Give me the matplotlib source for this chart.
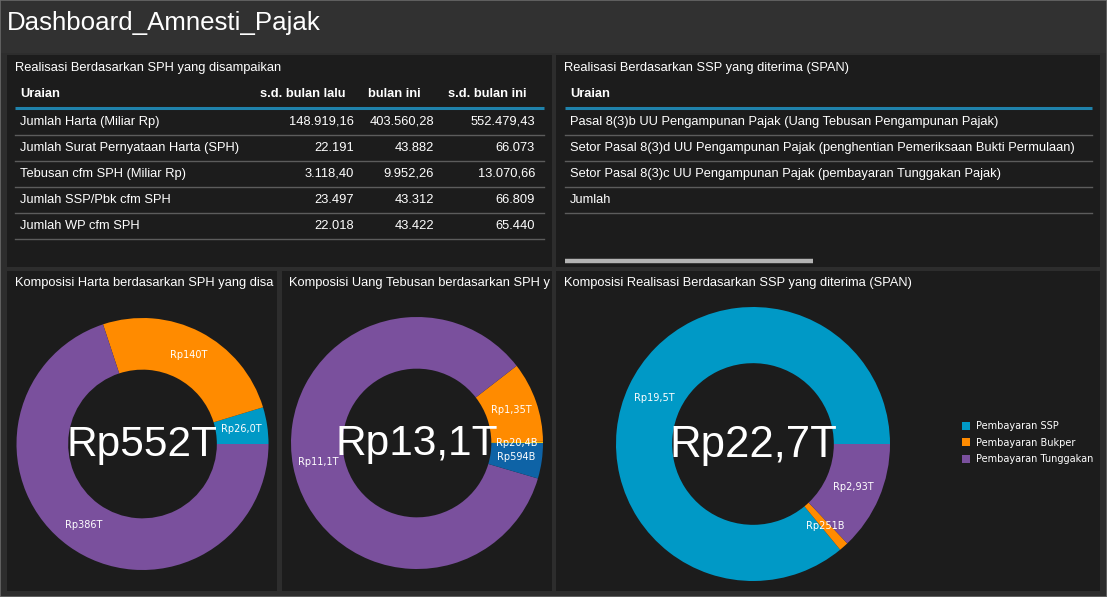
import math
import matplotlib
matplotlib.use("Agg")
import matplotlib.pyplot as plt

# ---------------- data ----------------
dash_title = "Dashboard_Amnesti_Pajak"

t1_title = "Realisasi Berdasarkan SPH yang disampaikan"
t1_header = ["Uraian", "s.d. bulan lalu", "bulan ini", "s.d. bulan ini"]
t1_rows = ["Jumlah Harta (Miliar Rp)",
           "Jumlah Surat Pernyataan Harta (SPH)",
           "Tebusan cfm SPH (Miliar Rp)",
           "Jumlah SSP/Pbk cfm SPH",
           "Jumlah WP cfm SPH"]
t1_sd_lalu = ["148.919,16", "22.191", "3.118,40", "23.497", "22.018"]
t1_bulan_ini = ["403.560,28", "43.882", "9.952,26", "43.312", "43.422"]
t1_sd_ini = ["552.479,43", "66.073", "13.070,66", "66.809", "65.440"]

t2_title = "Realisasi Berdasarkan SSP yang diterima (SPAN)"
t2_header = ["Uraian"]
t2_rows = ["Pasal 8(3)b UU Pengampunan Pajak (Uang Tebusan Pengampunan Pajak)",
           "Setor Pasal 8(3)d UU Pengampunan Pajak (penghentian Pemeriksaan Bukti Permulaan)",
           "Setor Pasal 8(3)c UU Pengampunan Pajak (pembayaran Tunggakan Pajak)",
           "Jumlah"]

# panel titles as visible (cut off by the panel edge in the dashboard)
d1_title = "Komposisi Harta berdasarkan SPH yang disa"
d1_values = [26.0, 140.0, 386.0]          # Rp triliun
d1_labels = ["Rp26,0T", "Rp140T", "Rp386T"]
d1_center = "Rp552T"
d1_colors = ["#0099c6", "#ff8b00", "#7a509d"]

d2_title = "Komposisi Uang Tebusan berdasarkan SPH y"
d2_values = [0.0204, 1.35, 11.1, 0.594]   # Rp triliun
d2_labels = ["Rp20,4B", "Rp1,35T", "Rp11,1T", "Rp594B"]
d2_center = "Rp13,1T"
d2_colors = ["#f2c318", "#ff8b00", "#7a509d", "#0e63a6"]

d3_title = "Komposisi Realisasi Berdasarkan SSP yang diterima (SPAN)"
d3_categories = ["Pembayaran SSP", "Pembayaran Bukper", "Pembayaran Tunggakan"]
d3_values = [19.5, 0.251, 2.93]           # Rp triliun
d3_labels = ["Rp19,5T", "Rp251B", "Rp2,93T"]
d3_center = "Rp22,7T"
d3_colors = ["#0099c6", "#ff8b00", "#7a509d"]

# ---------------- style ----------------
W, H = 1107, 597
FIG_BG = "#2d2d2d"
TOP_BG = "#313131"
PANEL_BG = "#1c1c1c"
FONT = "Liberation Sans"
SMALL_FONT = "DejaVu Sans"
FS = 9.3
plt.rcParams["font.family"] = [FONT, "DejaVu Sans"]

fig = plt.figure(figsize=(W / 100, H / 100), dpi=100, facecolor=FIG_BG)


def add_panel(x, y, w, h, bg=PANEL_BG):
    ax = fig.add_axes([x / W, 1 - (y + h) / H, w / W, h / H])
    ax.set_facecolor(bg)
    ax.set_xlim(x, x + w)
    ax.set_ylim(y + h, y)
    ax.set_xticks([])
    ax.set_yticks([])
    for s in ax.spines.values():
        s.set_visible(False)
    return ax


# title bar background
add_panel(1, 1, W - 2, 52, bg=TOP_BG)

# outer frame
frame = fig.add_axes([0, 0, 1, 1])
frame.set_facecolor("none")
frame.set_xticks([]); frame.set_yticks([])
for s in frame.spines.values():
    s.set_color("#6a6a6a")
    s.set_linewidth(1.2)

fig.text(7 / W, 1 - 23 / H, dash_title, color="white", fontsize=18.6,
         ha="left", va="center", family=FONT)

# ---------------- table 1 ----------------
ax1 = add_panel(7, 55, 545, 212)
ax1.text(15, 68, t1_title, color="white", fontsize=FS, ha="left", va="center", clip_on=True)
hdr_y = 94
ax1.text(20, hdr_y, t1_header[0], color="white", fontsize=FS, fontweight="bold", ha="left", va="center")
col_hdr_x = [346, 421, 527]
col_val_x = [354, 434, 535]
for hx, ht in zip(col_hdr_x, t1_header[1:]):
    ax1.text(hx, hdr_y, ht, color="white", fontsize=FS, fontweight="bold", ha="right", va="center")
ax1.plot([15, 544], [108, 108], color="#1f82ab", lw=2.2, solid_capstyle="butt")
for i, lab in enumerate(t1_rows):
    y = 122 + 26 * i
    ax1.text(20, y, lab, color="white", fontsize=FS, ha="left", va="center")
    for cx, col in zip(col_val_x, [t1_sd_lalu, t1_bulan_ini, t1_sd_ini]):
        ax1.text(cx, y, col[i], color="white", fontsize=FS, ha="right", va="center")
    ax1.plot([15, 544], [y + 13, y + 13], color="#5c5c5c", lw=1)

# ---------------- table 2 ----------------
ax2 = add_panel(556, 55, 544, 212)
ax2.text(564, 68, t2_title, color="white", fontsize=FS, ha="left", va="center", clip_on=True)
ax2.text(570, hdr_y, t2_header[0], color="white", fontsize=FS, fontweight="bold", ha="left", va="center")
ax2.plot([565, 1092], [108, 108], color="#1f82ab", lw=2.2, solid_capstyle="butt")
for i, lab in enumerate(t2_rows):
    y = 122 + 26 * i
    ax2.text(570, y, lab, color="white", fontsize=FS, ha="left", va="center", clip_on=True)
    ax2.plot([565, 1092], [y + 13, y + 13], color="#5c5c5c", lw=1)
ax2.plot([565, 813], [261, 261], color="#b4b4b4", lw=3.2, solid_capstyle="butt")


# ---------------- donuts ----------------
def donut(panel, title, tx, cx, cy, R, values, colors, labels, center, csize):
    panel.text(tx, 283, title, color="white", fontsize=FS, ha="left", va="center", clip_on=True)
    ax = fig.add_axes([(cx - R) / W, 1 - (cy + R) / H, 2 * R / W, 2 * R / H])
    ax.set_facecolor("none")
    width = 0.41
    wedges, _ = ax.pie(values, colors=colors, startangle=0, counterclock=True, radius=1,
                       wedgeprops=dict(width=width, edgecolor="none"))
    ax.set_xlim(-1.0, 1.0)
    ax.set_ylim(-1.0, 1.0)
    r = 1 - width / 2
    for wdg, lab in zip(wedges, labels):
        th = math.radians((wdg.theta1 + wdg.theta2) / 2)
        ax.text(r * math.cos(th), r * math.sin(th), lab, color="white", fontsize=7.0,
                family=SMALL_FONT, ha="center", va="center")
    ax.text(0, -0.01, center, color="white", fontsize=csize, ha="center", va="center", family=FONT)
    return wedges


p3 = add_panel(7, 271, 270, 320)
donut(p3, d1_title, 15, 142.5, 444, 126, d1_values, d1_colors, d1_labels, d1_center, 30.5)

p4 = add_panel(282, 271, 270, 320)
donut(p4, d2_title, 289, 417, 443, 126, d2_values, d2_colors, d2_labels, d2_center, 30.5)

p5 = add_panel(556, 271, 544, 320)
w3 = donut(p5, d3_title, 564, 753, 444, 137, d3_values, d3_colors, d3_labels, d3_center, 31.5)

leg = p5.legend(w3, d3_categories, loc="upper left", bbox_to_anchor=(962, 421),
                bbox_transform=p5.transData, frameon=False,
                prop=dict(family=SMALL_FONT, size=7.0), labelcolor="white",
                handlelength=0.85, handleheight=0.85, handletextpad=0.6,
                labelspacing=0.68, borderaxespad=0, borderpad=0)

fig.savefig("out.png", dpi=100, facecolor=FIG_BG)
